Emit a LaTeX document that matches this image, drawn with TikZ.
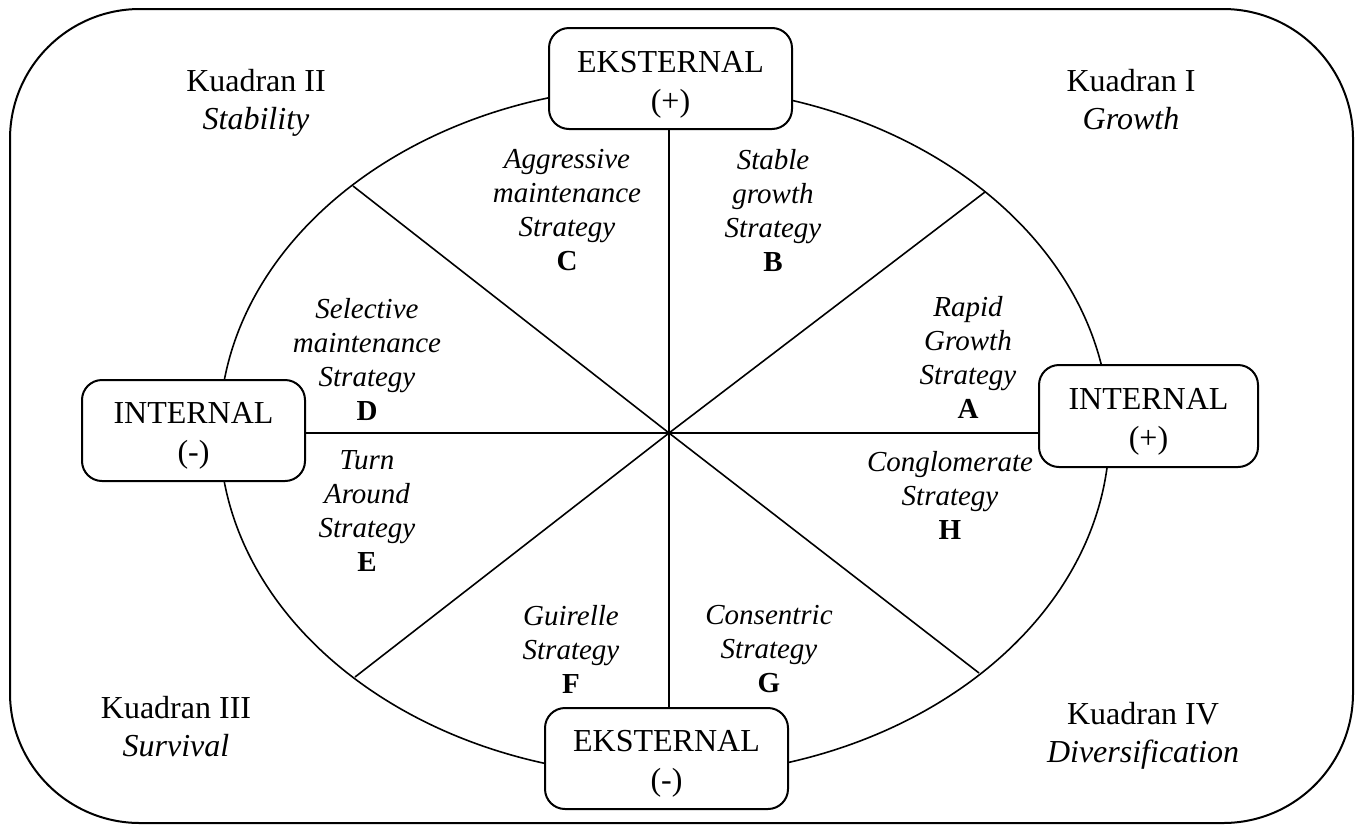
\documentclass[tikz,border=0pt]{standalone}
\usepackage{fontspec}
\setmainfont{Liberation Serif}
\newcommand{\boxtext}[3][2.5pt]{\raisebox{-#1}[\height][\depth]{\begin{tabular}{@{}c@{}}#2\\#3\end{tabular}}}
\begin{document}
\begin{tikzpicture}[x=0.5pt,y=-0.5pt,
  every node/.style={font=\fontsize{16}{19}\selectfont},
  box/.style={draw, line width=1pt, rounded corners=10pt, fill=white, inner sep=0pt,
    font=\fontsize{16}{19.5}\selectfont},
  lbl/.style={align=center, inner sep=0pt, anchor=north},
  strat/.style={align=center, inner sep=0pt, anchor=north, font=\fontsize{14.5}{17}\selectfont\itshape},
  ln/.style={line width=0.8pt}]
\useasboundingbox (0,0) rectangle (1358,825);
% outer frame
\draw[line width=1pt, rounded corners=65pt] (10,9) rectangle (1353,823);
% ellipse
\draw[ln] (664.5,431) ellipse [x radius=222.5pt, y radius=172.5pt];
% centre and diagonal end points
\coordinate (c) at (669,433);
\coordinate (ul) at (353,186);
\coordinate (ur) at (985,192);
\coordinate (ll) at (355,677);
\coordinate (lr) at (979,673);
\draw[ln] (c) -- (ul);
\draw[ln] (c) -- (ur);
\draw[ln] (c) -- (ll);
\draw[ln] (c) -- (lr);
% boxes
\node[box, minimum width=121.5pt, minimum height=50.5pt] (top) at (670.5,78.5) {\boxtext[2.9pt]{EKSTERNAL}{(+)}};
\node[box, minimum width=121.5pt, minimum height=50.5pt] (bot) at (666.5,758.5) {\boxtext{EKSTERNAL}{(-)}};
\node[box, minimum width=111.5pt, minimum height=50.5pt] (lft) at (193.5,430.5) {\boxtext{INTERNAL}{(-)}};
\node[box, minimum width=109.5pt, minimum height=51pt] (rgt) at (1148.5,416) {\boxtext{INTERNAL}{(+)}};
% axes
\draw[ln] (c |- top.south) -- (c |- bot.north);
\draw[ln] (c -| lft.east) -- (c -| rgt.west);
% quadrant labels
\node[lbl] (q2) at (256,69) {Kuadran II\\\textit{Stability}};
\node[lbl] (q1) at (1131,69) {Kuadran I\\\textit{Growth}};
\node[lbl] (q3) at (176,696) {Kuadran III\\\textit{Survival}};
\node[lbl] (q4) at (1143,702) {Kuadran IV\\\textit{Diversification}};
% strategies
\node[strat] (sC) at (567,148.5) {Aggressive\\maintenance\\Strategy\\\textbf{\upshape C}};
\node[strat] (sB) at (773,148.5) {Stable\\growth\\Strategy\\\textbf{\upshape B}};
\node[strat] (sD) at (367,297.5) {Selective\\maintenance\\Strategy\\\textbf{\upshape D}};
\node[strat] (sA) at (968,295.5) {Rapid\\Growth\\Strategy\\\textbf{\upshape A}};
\node[strat] (sE) at (367,450.5) {Turn\\Around\\Strategy\\\textbf{\upshape E}};
\node[strat] (sH) at (950,450.5) {Conglomerate\\Strategy\\\textbf{\upshape H}};
\node[strat] (sF) at (571,604.5) {Guirelle\\Strategy\\\textbf{\upshape F}};
\node[strat] (sG) at (769,604.5) {Consentric\\Strategy\\\textbf{\upshape G}};
\end{tikzpicture}
\end{document}
